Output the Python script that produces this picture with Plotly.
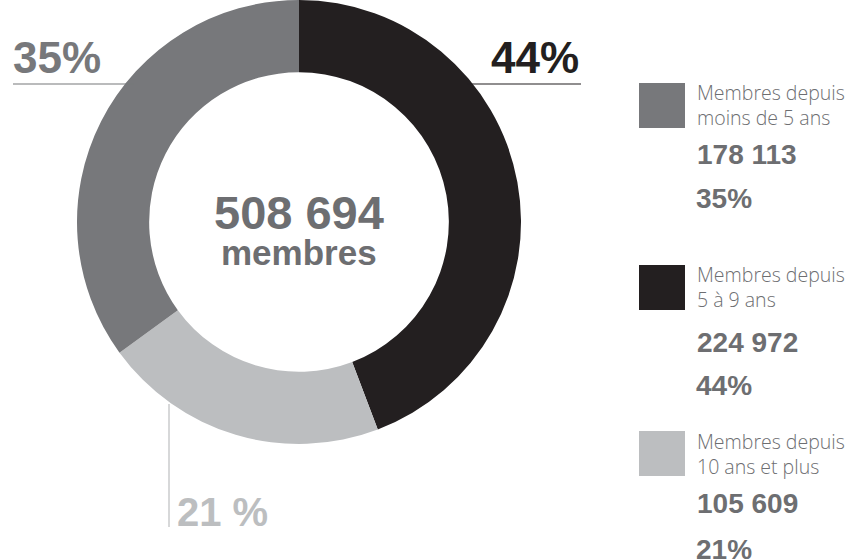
import plotly.graph_objects as go

W, H = 851, 559

# ---- data ----
categories = ["Membres depuis<br>5 à 9 ans",
              "Membres depuis<br>10 ans et plus",
              "Membres depuis<br>moins de 5 ans"]
values = [224972, 105609, 178113]
colors = ["#231f20", "#bcbec0", "#77787b"]
center_label = "membres"
legend_order = [2, 0, 1]  # legend lists: <5 ans, 5-9 ans, 10+ ans

total = sum(values)
pcts = [round(v / total * 100) for v in values]


def fmt(n):
    return f"{n:,}".replace(",", " ")


def px(x):
    return x / W


def py(y):
    return 1 - y / H


TXT = "#6d6e71"
BOLD = "Liberation Sans, Arial, sans-serif"
LIGHT = "Open Sans, Liberation Sans, sans-serif"

# donut geometry (pixels)
cx, cy, R = 299, 222, 222

fig = go.Figure(go.Pie(
    labels=categories,
    values=values,
    marker=dict(colors=colors, line=dict(width=0)),
    hole=0.675,
    sort=False,
    direction="clockwise",
    rotation=0,
    textinfo="none",
    hoverinfo="label+value+percent",
    showlegend=False,
    domain=dict(x=[px(cx - R), px(cx + R)], y=[py(cy + R), py(cy - R)]),
))

ann = []
shapes = []

# center total
ann.append(dict(x=px(cx), y=py(213), text=f"<b>{fmt(total)}</b>", showarrow=False,
                xanchor="center", yanchor="middle", borderpad=0,
                font=dict(family=BOLD, size=47, color=TXT)))
ann.append(dict(x=px(cx), y=py(252), text=f"<b>{center_label}</b>", showarrow=False,
                xanchor="center", yanchor="middle", borderpad=0,
                font=dict(family=BOLD, size=35, color=TXT)))

# black (5-9 ans)
ann.append(dict(x=px(581), y=py(57), text=f"<b>{pcts[0]}%</b>", showarrow=False,
                xanchor="right", yanchor="middle",
                font=dict(family=BOLD, size=44, color=colors[0])))
shapes.append(dict(type="line", xref="paper", yref="paper",
                   x0=px(467), x1=px(581), y0=py(84), y1=py(84),
                   line=dict(color=colors[0], width=1.2)))
# mid gray (<5 ans)
ann.append(dict(x=px(11), y=py(57), text=f"<b>{pcts[2]}%</b>", showarrow=False,
                xanchor="left", yanchor="middle",
                font=dict(family=BOLD, size=44, color=colors[2])))
shapes.append(dict(type="line", xref="paper", yref="paper",
                   x0=px(13), x1=px(134), y0=py(84), y1=py(84),
                   line=dict(color=colors[2], width=1.2)))
# light gray (10+ ans)
ann.append(dict(x=px(175), y=py(512), text=f"<b>{pcts[1]} %</b>", showarrow=False,
                xanchor="left", yanchor="middle",
                font=dict(family=BOLD, size=40, color=colors[1])))
shapes.append(dict(type="line", xref="paper", yref="paper",
                   x0=px(169), x1=px(169), y0=py(404), y1=py(527),
                   line=dict(color=colors[1], width=1.2)))

# custom legend
sq_top = [83, 265, 431]
lab_y = [105, 287, 454]
num_y = [155, 342, 503]
pct_y = [198, 385, 549]
for k, i in enumerate(legend_order):
    shapes.append(dict(type="rect", xref="paper", yref="paper",
                       x0=px(639), x1=px(685), y0=py(sq_top[k]), y1=py(sq_top[k] + 45),
                       fillcolor=colors[i], line=dict(width=0)))
    ann.append(dict(x=px(695), y=py(lab_y[k]), text=categories[i], showarrow=False,
                    xanchor="left", yanchor="middle", align="left",
                    font=dict(family=LIGHT, size=19.5, color=TXT, weight=300)))
    ann.append(dict(x=px(695), y=py(num_y[k]), text=f"<b>{fmt(values[i])}</b>", showarrow=False,
                    xanchor="left", yanchor="middle",
                    font=dict(family=BOLD, size=28, color=TXT)))
    ann.append(dict(x=px(695), y=py(pct_y[k]), text=f"<b>{pcts[i]}%</b>", showarrow=False,
                    xanchor="left", yanchor="middle", borderpad=0,
                    font=dict(family=BOLD, size=28, color=TXT)))

fig.update_layout(
    width=W, height=H,
    margin=dict(l=0, r=0, t=0, b=0),
    paper_bgcolor="white", plot_bgcolor="white",
    annotations=ann, shapes=shapes,
)

fig.write_html("out.html", config={"displayModeBar": False},
               post_script="document.body.style.margin='0';document.body.style.overflow='hidden';")
